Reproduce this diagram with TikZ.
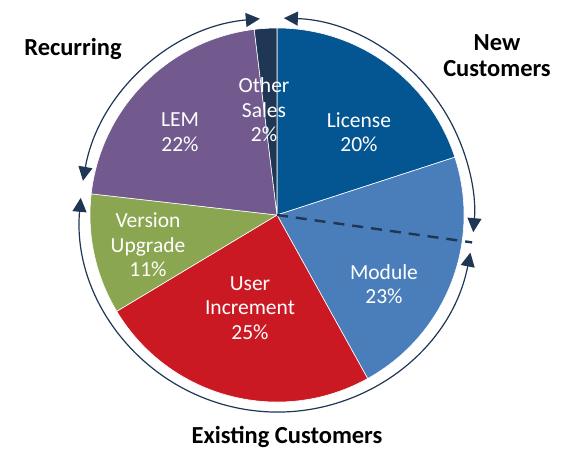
\documentclass[tikz,border=0pt]{standalone}
\usepackage{fontspec}
\setmainfont{Carlito}
\usetikzlibrary{arrows.meta}

\definecolor{azulos}{RGB}{4,86,146}
\definecolor{azulcl}{RGB}{74,126,187}
\definecolor{rojo}{RGB}{203,25,35}
\definecolor{verde}{RGB}{139,166,80}
\definecolor{morado}{RGB}{114,90,142}
\definecolor{marino}{RGB}{31,54,84}

\tikzset{
  rebanada/.style={draw=white,line width=0.6pt},
  etiqueta/.style={text=white,align=center,font=\fontsize{21.5}{24.5}\selectfont},
  grupo/.style={align=center,font=\bfseries\fontsize{24.5}{26}\selectfont},
  flecha/.style={draw=marino,line width=1.2pt,{Triangle[length=14pt,width=14pt]}-{Triangle[length=14pt,width=14pt]}}
}

\begin{document}
\begin{tikzpicture}[x=1pt,y=1pt]
\useasboundingbox (-277,-235) rectangle (284,215);

%centro del pastel
\coordinate (centro) at (0,0);

%rebanadas del pastel
\foreach \a/\b/\c in {90/18/azulos,18/-61/azulcl,-61/-149/rojo,-149/-186.5/verde,-186.5/-263/morado,-263/-270/marino}
  \filldraw[rebanada,fill=\c] (centro) -- (\a:187pt) arc[start angle=\a,end angle=\b,radius=187pt] -- cycle;

%linea punteada entre clientes nuevos y existentes
\coordinate (corte) at (-8:197pt);
\draw[marino,line width=2.4pt,dash pattern=on 11pt off 8pt] (centro) -- (corte);

%textos de las rebanadas
\node[etiqueta] (licencia) at (82,83) {License\\20\%};
\node[etiqueta] (otras) at (-13,105) {Other\\Sales\\2\%};
\node[etiqueta] (lem) at (-97,83) {LEM\\22\%};
\node[etiqueta] (version) at (-129,-30) {Version\\Upgrade\\11\%};
\node[etiqueta] (usuario) at (-27,-93) {User\\Increment\\25\%};
\node[etiqueta] (modulo) at (107,-69) {Module\\23\%};

%flechas alrededor del pastel
\draw[flecha] (88:197pt) arc[start angle=88,end angle=-5,radius=197pt];
\draw[flecha] (-11:197pt) arc[start angle=-11,end angle=-185,radius=197pt];
\draw[flecha] (170:197pt) arc[start angle=170,end angle=95,radius=197pt];

%nombres de los grupos
\node[grupo] (recurrente) at (-204,166) {Recurring};
\node[grupo] (nuevos) at (220,159) {New\\Customers};
\node[grupo] (existentes) at (10,-222) {Existing Customers};
\end{tikzpicture}
\end{document}
